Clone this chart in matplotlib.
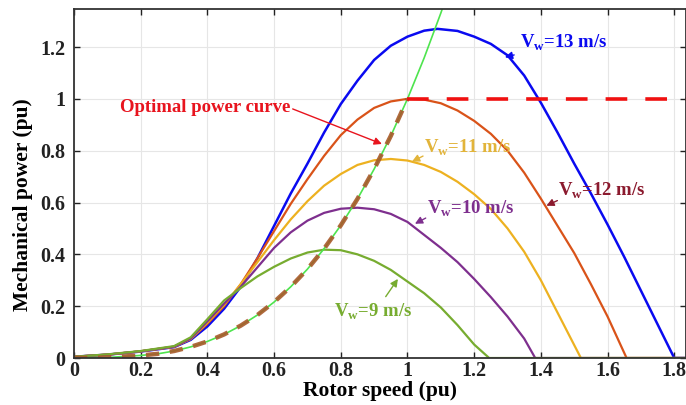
import numpy as np
import matplotlib
matplotlib.use("Agg")
import matplotlib.pyplot as plt

plt.rcParams["font.family"] = "Liberation Serif"
plt.rcParams["font.weight"] = "bold"
plt.rcParams["mathtext.fontset"] = "custom"
plt.rcParams["mathtext.rm"] = "Liberation Serif:bold"
plt.rcParams["mathtext.bf"] = "Liberation Serif:bold"

# curves (rotor speed in pu, power in pu)
x_13 = [0, 0.1, 0.2, 0.3, 0.35, 0.4, 0.45, 0.5, 0.55, 0.6, 0.65, 0.7, 0.75, 0.8,
        0.85, 0.9, 0.95, 1.0, 1.05, 1.09, 1.15, 1.2, 1.25, 1.3, 1.35, 1.4, 1.45,
        1.5, 1.55, 1.6, 1.65, 1.7, 1.75, 1.8, 1.84]
p_13 = [0.005, 0.013, 0.025, 0.042, 0.07, 0.122, 0.19, 0.275, 0.385, 0.51, 0.635,
        0.75, 0.87, 0.98, 1.07, 1.15, 1.205, 1.24, 1.263, 1.27, 1.262, 1.24,
        1.212, 1.168, 1.09, 0.985, 0.87, 0.75, 0.635, 0.515, 0.39, 0.26, 0.13,
        0.0, 0.0]

x_12 = [0, 0.1, 0.2, 0.3, 0.35, 0.4, 0.45, 0.5, 0.55, 0.6, 0.65, 0.7, 0.75, 0.8,
        0.85, 0.9, 0.95, 1.0, 1.05, 1.1, 1.15, 1.2, 1.25, 1.3, 1.35, 1.4, 1.45,
        1.5, 1.55, 1.6, 1.657, 1.84]
p_12 = [0.005, 0.013, 0.026, 0.043, 0.073, 0.132, 0.2, 0.285, 0.385, 0.49, 0.595,
        0.69, 0.78, 0.86, 0.92, 0.965, 0.99, 1.0, 0.997, 0.983, 0.955, 0.915,
        0.865, 0.8, 0.715, 0.615, 0.51, 0.405, 0.285, 0.16, 0.0, 0.0]

x_11 = [0, 0.1, 0.2, 0.3, 0.35, 0.4, 0.45, 0.5, 0.55, 0.6, 0.65, 0.7, 0.75, 0.8,
        0.85, 0.9, 0.95, 1.0, 1.05, 1.1, 1.15, 1.2, 1.25, 1.3, 1.35, 1.4, 1.45,
        1.5, 1.52, 1.84]
p_11 = [0.005, 0.013, 0.026, 0.044, 0.074, 0.137, 0.205, 0.285, 0.37, 0.455, 0.535,
        0.605, 0.665, 0.71, 0.745, 0.763, 0.768, 0.762, 0.745, 0.718, 0.68, 0.632,
        0.575, 0.5, 0.41, 0.3, 0.175, 0.05, 0.0, 0.0]

x_10 = [0, 0.1, 0.2, 0.3, 0.35, 0.4, 0.45, 0.5, 0.55, 0.6, 0.65, 0.7, 0.75, 0.8,
        0.85, 0.9, 0.95, 1.0, 1.05, 1.1, 1.15, 1.2, 1.25, 1.3, 1.35, 1.383, 1.84]
p_10 = [0.005, 0.013, 0.026, 0.044, 0.075, 0.142, 0.21, 0.275, 0.35, 0.425, 0.485,
        0.53, 0.56, 0.576, 0.58, 0.574, 0.556, 0.525, 0.475, 0.425, 0.37, 0.305,
        0.235, 0.16, 0.075, 0.0, 0.0]

x_9 = [0, 0.1, 0.2, 0.3, 0.35, 0.4, 0.45, 0.5, 0.55, 0.6, 0.65, 0.7, 0.75, 0.8,
       0.85, 0.9, 0.95, 1.0, 1.05, 1.1, 1.15, 1.2, 1.245, 1.84]
p_9 = [0.005, 0.014, 0.027, 0.046, 0.08, 0.15, 0.222, 0.27, 0.315, 0.352, 0.384,
       0.407, 0.418, 0.416, 0.4, 0.375, 0.34, 0.295, 0.25, 0.195, 0.127, 0.052,
       0.0, 0.0]

x_opt = [0, 0.1, 0.2, 0.25, 0.3, 0.35, 0.4, 0.45, 0.5, 0.55, 0.6, 0.65, 0.7, 0.75,
         0.8, 0.85, 0.9, 0.95, 1.0, 1.05, 1.1, 1.12]
p_opt = [0, 0.002, 0.01, 0.016, 0.027, 0.043, 0.064, 0.091, 0.125, 0.166, 0.216,
         0.275, 0.343, 0.422, 0.512, 0.614, 0.729, 0.857, 1.0, 1.158, 1.331, 1.405]
n_dash = 19  # optimal curve shown dashed up to rated speed

x_rated = [1.0, 1.84]
p_rated = [1.0, 1.0]

c13, c12, c11, c10, c9 = "#0a0af0", "#d95319", "#edb120", "#7e2f8e", "#77ac30"

fig = plt.figure(figsize=(6.86, 4.05), dpi=100)
ax = fig.add_axes([0.1079, 0.116, 0.892, 0.862])

ax.grid(color="#e6e6e6", linewidth=0.8)
ax.set_axisbelow(True)

ax.plot(x_13, p_13, color=c13, lw=1.8)
ax.plot(x_12, p_12, color=c12, lw=1.6)
ax.plot(x_11, p_11, color=c11, lw=1.6)
ax.plot(x_10, p_10, color=c10, lw=1.6)
ax.plot(x_9, p_9, color=c9, lw=1.6)
ax.plot(x_opt, p_opt, color="#4ee44e", lw=1.2)
ax.plot(x_opt[:n_dash], p_opt[:n_dash], color="#a8592a", lw=3.2,
        dashes=(3.0, 2.4), alpha=0.9)
ax.plot(x_rated, p_rated, color="#f01010", lw=2.6, dashes=(6.0, 5.0))

ax.set_xlim(0, 1.835)
ax.set_ylim(0, 1.347)
ax.set_xticks(np.arange(0, 1.81, 0.2))
ax.set_xticklabels(["0", "0.2", "0.4", "0.6", "0.8", "1", "1.2", "1.4", "1.6", "1.8"])
ax.set_yticks(np.arange(0, 1.21, 0.2))
ax.set_yticklabels(["0", "0.2", "0.4", "0.6", "0.8", "1", "1.2"])
ax.tick_params(direction="in", top=True, right=True, labelsize=14.5, length=4,
               width=1.0, colors="#222222")
ax.tick_params(axis="x", pad=2)
ax.tick_params(axis="y", pad=6)
for lab in ax.get_xticklabels() + ax.get_yticklabels():
    lab.set_fontweight("bold")
for s in ax.spines.values():
    s.set_linewidth(1.3)
    s.set_color("#333333")

ax.set_xlabel("Rotor speed (pu)", fontsize=15.5, fontweight="bold", labelpad=0)
ax.set_ylabel("Mechanical power (pu)", fontsize=15.5, fontweight="bold")
ax.yaxis.set_label_coords(-0.067, 0.44)

def note(txt, xy, xytext, color, tx, ty, ha="left"):
    ax.annotate("", xy=xy, xytext=xytext,
                arrowprops=dict(arrowstyle="-|>", color=color, lw=1.0,
                                mutation_scale=11))
    ax.text(tx, ty, txt, color=color, fontsize=13.5, fontweight="bold",
            ha=ha, va="center")

note("Optimal power curve", (0.931, 0.822), (0.648, 0.965), "#e8141e",
     0.648, 0.965, ha="right")
note(r"V$_{\mathregular{w}}$=13 m/s", (1.284, 1.158), (1.328, 1.172), c13,
     1.338, 1.215)
note(r"V$_{\mathregular{w}}$=12 m/s", (1.409, 0.583), (1.457, 0.612), "#8b1a2e",
     1.452, 0.645)
note(r"V$_{\mathregular{w}}$=11 m/s", (1.006, 0.753), (1.054, 0.784), "#e2b43a",
     1.05, 0.81)
note(r"V$_{\mathregular{w}}$=10 m/s", (1.015, 0.513), (1.062, 0.545), c10,
     1.06, 0.575)
note(r"V$_{\mathregular{w}}$=9 m/s", (0.976, 0.314), (0.93, 0.228), c9,
     0.78, 0.18)

fig.savefig("out.png", dpi=100)
